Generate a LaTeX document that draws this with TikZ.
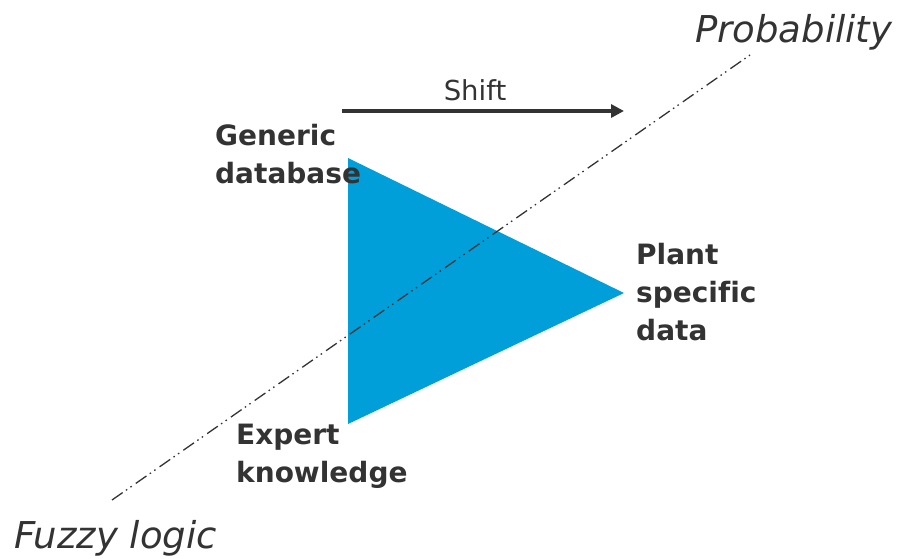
\documentclass[tikz,border=0pt]{standalone}
\usepackage{fontspec}
\setmainfont[Ligatures=NoCommon]{DejaVu Sans}
\usetikzlibrary{arrows.meta}
\definecolor{txt}{HTML}{333333}
\definecolor{tri}{HTML}{009FDA}
\begin{document}
\begin{tikzpicture}[x=1pt,y=-1pt,
  lbl/.style={font=\fontsize{28}{38}\selectfont\bfseries, text=txt, align=left, inner sep=0pt, anchor=base west},
  axis/.style={font=\fontsize{37}{40}\selectfont\itshape, text=txt, inner sep=0pt, anchor=base west},
  ddline/.style={line width=1.3pt, draw=txt, dash pattern=on 13pt off 4pt on 1.5pt off 4pt on 1.5pt off 5pt}]
\useasboundingbox (0,0) rectangle (898,558);
\coordinate (A) at (348,158);
\coordinate (B) at (348,424);
\coordinate (C) at (624,293);
\fill[tri] (A) -- (B) -- (C) -- cycle;
\coordinate (L1) at (112,500);
\coordinate (L2) at (750,55);
\draw[ddline] (L1) -- (L2);
\coordinate (S1) at (342,111);
\coordinate (S2) at (624,111);
\draw[txt, line width=4pt, -{Triangle[length=13pt,width=13pt]}] (S1) -- (S2);
\node[font=\fontsize{27.5}{30}\selectfont, text=txt, inner sep=0pt, anchor=base] (shift) at (475,100) {Shift};
\node[lbl] (gen) at (215,183) {Generic\\database};
\node[lbl] (plant) at (636,340) {Plant\\specific\\data};
\node[lbl] (exp) at (236,482) {Expert\\knowledge};
\node[axis] (prob) at (695,42) {Probability};
\node[axis] (fuzzy) at (14,548) {Fuzzy logic};
\end{tikzpicture}
\end{document}
